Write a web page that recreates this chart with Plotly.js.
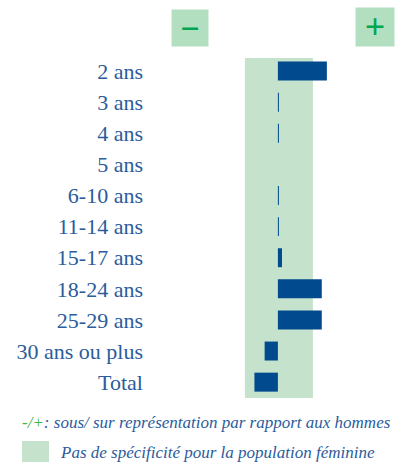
<!DOCTYPE html>
<html>
<head>
<meta charset="utf-8">
<script src="https://cdn.plot.ly/plotly-3.0.1.min.js"></script>
</head>
<body style="margin:0;background:#fff">
<div id="chart" style="width:409px;height:462px"></div>
<script>
// Categories (top to bottom)
const categories = ["2 ans","3 ans","4 ans","5 ans","6-10 ans","11-14 ans","15-17 ans","18-24 ans","25-29 ans","30 ans ou plus","Total"];
// Deviation of women vs men (arbitrary index units)
const values = [14.4, 0.3, 0.3, 0, 0.3, 0.3, 1.2, 12.9, 12.9, -3.9, -6.9];
// Zone of "no specificity"
const bandLow = -9.7;
const bandHigh = 10.3;
const minusLabel = "−";
const plusLabel = "+";
const noteLine1 = "-/+";
const noteLine1b = ": sous/ sur représentation par rapport aux hommes";
const noteLine2 = "Pas de spécificité pour la population féminine";

Plotly.newPlot("chart", [{
  type: "bar",
  orientation: "h",
  y: categories,
  x: values,
  width: 0.61,
  marker: {color: "#004a8d"}
}], {
  width: 409, height: 462,
  margin: {l: 150, r: 9, t: 40, b: 50},
  font: {family: "Liberation Serif"},
  showlegend: false,
  xaxis: {range: [-37.6, 35.9], visible: false},
  yaxis: {
    range: [10.96, -1.0],
    showgrid: false, zeroline: false, ticks: "",
    ticklabelstandoff: 6,
    tickfont: {family: "Liberation Serif", size: 22, color: "#2b5c9c"}
  },
  shapes: [
    {type: "rect", xref: "x", yref: "y", x0: bandLow, x1: bandHigh, y0: -0.42, y1: 10.51,
     fillcolor: "#c5e3cc", line: {width: 0}, layer: "below"},
    {type: "rect", xref: "paper", yref: "paper", x0: -0.512, x1: -0.404, y0: -0.078, y1: -0.15,
     fillcolor: "#c5e3cc", line: {width: 0}}
  ],
  annotations: [
    {xref: "paper", yref: "paper", x: 0.158, y: 1.032, xanchor: "center", yanchor: "middle",
     text: "<b>" + minusLabel + "</b>", showarrow: false, width: 34, height: 34, bgcolor: "#b3dfc1",
     font: {family: "Liberation Serif", size: 34, color: "#00a651"}},
    {xref: "paper", yref: "paper", x: 0.9, y: 1.035, xanchor: "center", yanchor: "middle",
     text: "<b>" + plusLabel + "</b>", showarrow: false, width: 36, height: 36, bgcolor: "#b3dfc1",
     font: {family: "Liberation Serif", size: 36, color: "#00a651"}},
    {xref: "paper", yref: "paper", x: -0.52, y: -0.027, xanchor: "left", yanchor: "middle",
     text: "<i><span style='color:#3cb54a'>" + noteLine1 + "</span>" + noteLine1b + "</i>", showarrow: false,
     font: {family: "Liberation Serif", size: 17, color: "#2b5c9c"}},
    {xref: "paper", yref: "paper", x: -0.368, y: -0.11, xanchor: "left", yanchor: "middle",
     text: "<i>" + noteLine2 + "</i>", showarrow: false,
     font: {family: "Liberation Serif", size: 17, color: "#2b5c9c"}}
  ]
}, {staticPlot: true});
</script>
</body>
</html>
